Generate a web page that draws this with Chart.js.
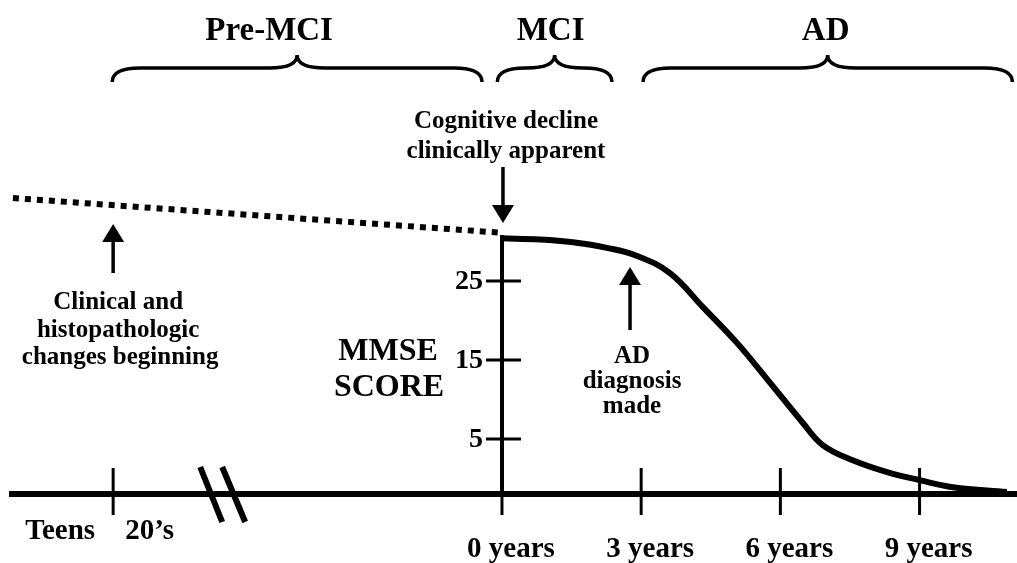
<!DOCTYPE html>
<html>
<head>
<meta charset="utf-8">
<script src="https://cdn.jsdelivr.net/npm/chart.js@4/dist/chart.umd.min.js"></script>
<style>
  html, body { margin: 0; padding: 0; background: #fff; }
  #wrap { width: 1017px; height: 563px; }
</style>
</head>
<body>
<div id="wrap"><canvas id="mmseChart" width="1017" height="563"></canvas></div>
<script>
// MMSE decline after cognitive decline becomes apparent (years, score)
const mmseYears  = [0, 0.82, 1.53, 2.26, 2.9, 3.62, 4.33, 5.06, 5.78, 6.49, 6.92, 7.56, 8.30, 9.0, 9.72, 10.88];
const mmseScores = [30.4, 30.25, 29.9, 29.2, 28.2, 26.0, 21.7, 17.2, 12.1, 7.0, 4.2, 2.3, 0.8, -0.2, -1.1, -1.7];

// pre-MCI dotted trend (compressed time)
const preYears  = [-10.54, 0];
const preScores = [35.5, 31.1];

const yearTicks  = [0, 3, 6, 9];
const scoreTicks = [5, 15, 25];
const earlyTick  = -8.38;          // the "20's" mark
const breakAt    = -6.03;          // axis break

const phases     = ['Pre-MCI', 'MCI', 'AD'];
const phaseStart = [-8.4, -0.1, 3.04];
const phaseEnd   = [-0.43, 2.37, 11.0];

const serif = '"Liberation Serif", "Times New Roman", serif';
const ink = '#000';

function bold(size) {
    return 'bold ' + size + 'px ' + serif;
}

function line(ctx, x1, y1, x2, y2, w) {
    ctx.beginPath();
    ctx.lineWidth = w;
    ctx.moveTo(x1, y1);
    ctx.lineTo(x2, y2);
    ctx.stroke();
}

function arrow(ctx, x, yTail, yTip) {
    const dir = yTip > yTail ? 1 : -1;
    const headLen = 18, halfW = 11;
    line(ctx, x, yTail, x, yTip - dir * headLen, 3.5);
    ctx.beginPath();
    ctx.moveTo(x, yTip);
    ctx.lineTo(x - halfW, yTip - dir * headLen);
    ctx.lineTo(x + halfW, yTip - dir * headLen);
    ctx.closePath();
    ctx.fill();
}

function brace(ctx, x0, x1) {
    const xm = (x0 + x1) / 2;
    const yEnd = 82, yBar = 68, yPeak = 55, r = 28;
    ctx.beginPath();
    ctx.lineWidth = 3.5;
    ctx.moveTo(x0, yEnd);
    ctx.quadraticCurveTo(x0, yBar, x0 + r, yBar);
    ctx.lineTo(xm - r, yBar);
    ctx.quadraticCurveTo(xm, yBar, xm, yPeak);
    ctx.quadraticCurveTo(xm, yBar, xm + r, yBar);
    ctx.lineTo(x1 - r, yBar);
    ctx.quadraticCurveTo(x1, yBar, x1, yEnd);
    ctx.stroke();
}

function text(ctx, str, x, y, size, align) {
    ctx.font = bold(size);
    ctx.textAlign = align || 'center';
    ctx.textBaseline = 'middle';
    ctx.fillText(str, x, y);
}

const labelShift = [-28, -4, -2];

const sketchPlugin = {
    id: 'sketch',
    afterDraw(chart) {
        const { ctx, scales: { x, y } } = chart;
        const base = y.getPixelForValue(y.min);
        const x0 = x.getPixelForValue(0);
        ctx.save();
        ctx.strokeStyle = ink;
        ctx.fillStyle = ink;
        ctx.lineCap = 'butt';

        // x tick marks crossing the axis
        [earlyTick].concat(yearTicks).forEach(t => {
            const px = x.getPixelForValue(t);
            line(ctx, px, base - 26, px, base + 21, 3);
        });
        // y tick marks crossing the axis, with their labels
        scoreTicks.forEach(v => {
            const py = y.getPixelForValue(v);
            line(ctx, x0 - 16, py, x0 + 19, py, 3);
            text(ctx, String(v), x0 - 19, py + 1, 28, 'right');
        });

        // axis break
        const bx = x.getPixelForValue(breakAt);
        line(ctx, bx - 22, base - 27, bx, base + 28, 6);
        line(ctx, bx, base - 27, bx + 23, base + 28, 6);

        // x labels
        yearTicks.forEach(t => text(ctx, t + ' years', x.getPixelForValue(t) + 9, 550, 29));
        const ex = x.getPixelForValue(earlyTick);
        text(ctx, 'Teens', ex - 18, 532, 29, 'right');
        text(ctx, '20\u2019s', ex + 12, 532, 29, 'left');

        // phase braces
        phases.forEach((name, i) => {
            const a = x.getPixelForValue(phaseStart[i]);
            const b = x.getPixelForValue(phaseEnd[i]);
            brace(ctx, a, b);
            text(ctx, name, (a + b) / 2 + labelShift[i], 31, 33);
        });

        // annotations
        text(ctx, 'Cognitive decline', x0 + 4, 122, 25);
        text(ctx, 'clinically apparent', x0 + 4, 152, 25);
        arrow(ctx, x0 + 1, 167, 223);

        arrow(ctx, ex, 273, 224);
        text(ctx, 'Clinical and', ex + 5, 303, 25);
        text(ctx, 'histopathologic', ex + 5, 331, 25);
        text(ctx, 'changes beginning', ex + 7, 358, 25);

        const dx = x.getPixelForValue(2.76);
        arrow(ctx, dx, 330, 267);
        text(ctx, 'AD', dx + 2, 357, 25);
        text(ctx, 'diagnosis', dx + 2, 382, 25);
        text(ctx, 'made', dx + 2, 407, 25);

        text(ctx, 'MMSE', 388, 352, 32);
        text(ctx, 'SCORE', 389, 388, 32);

        ctx.restore();
    }
};

const ctx = document.getElementById('mmseChart').getContext('2d');
new Chart(ctx, {
    type: 'line',
    data: {
        datasets: [
            {
                data: mmseYears.map((t, i) => ({ x: t, y: mmseScores[i] })),
                borderColor: ink,
                borderWidth: 6,
                pointRadius: 0,
                tension: 0.4,
                clip: false
            },
            {
                data: preYears.map((t, i) => ({ x: t, y: preScores[i] })),
                borderColor: ink,
                borderWidth: 6,
                borderDash: [6, 6],
                borderCapStyle: 'butt',
                pointRadius: 0,
                tension: 0,
                clip: false
            }
        ]
    },
    options: {
        responsive: false,
        animation: false,
        layout: { padding: { left: 12, right: 0, top: 237, bottom: 69 } },
        plugins: { legend: { display: false }, tooltip: { enabled: false } },
        scales: {
            x: {
                type: 'linear',
                min: -10.56,
                max: 11.1,
                grid: { display: false, drawTicks: false, tickLength: 0 },
                ticks: { display: false },
                border: { display: true, color: ink, width: 6 }
            },
            y: {
                type: 'linear',
                position: { x: 0 },
                min: -1.96,
                max: 30.57,
                afterBuildTicks: s => { s.ticks = scoreTicks.map(v => ({ value: v })); },
                grid: { display: false, drawTicks: false, tickLength: 0 },
                ticks: { display: false },
                border: { display: true, color: ink, width: 4 }
            }
        }
    },
    plugins: [sketchPlugin]
});
</script>
</body>
</html>
